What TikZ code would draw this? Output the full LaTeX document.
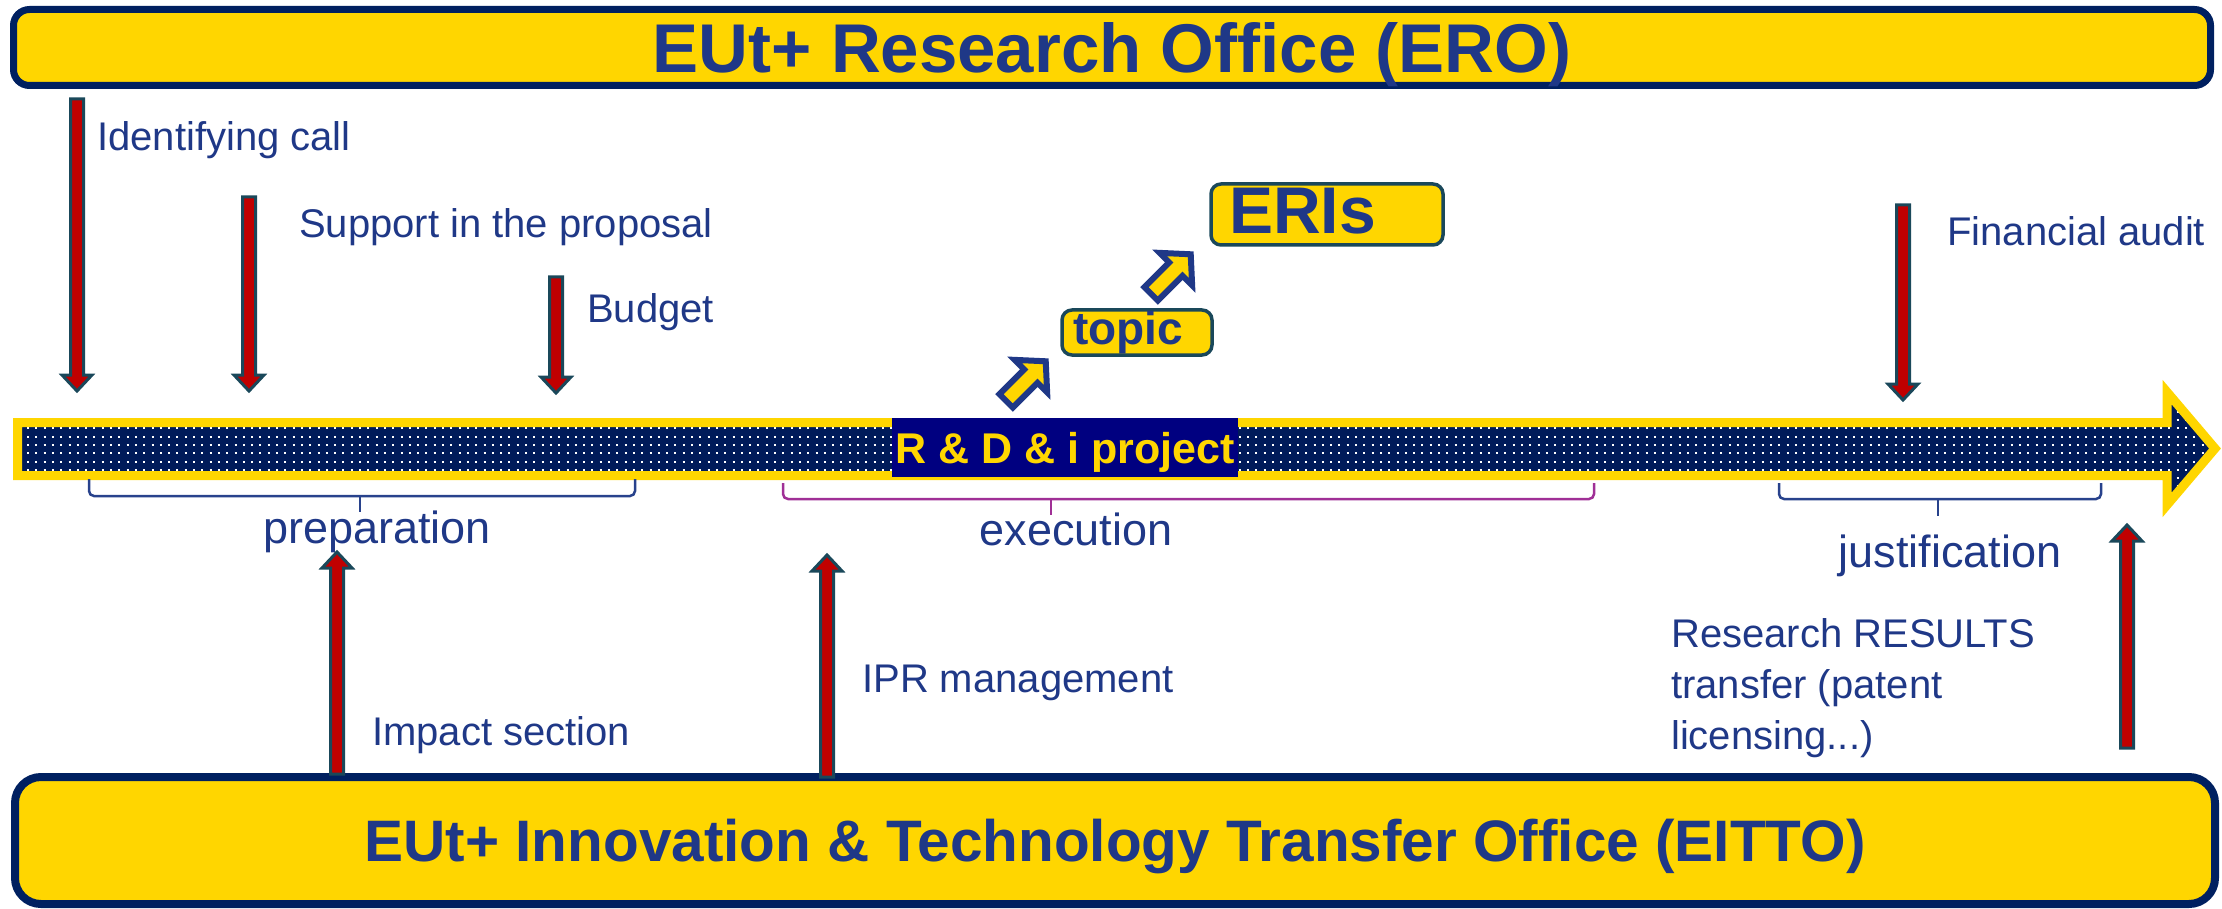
\documentclass[tikz,border=0pt]{standalone}
\usepackage{fontspec}
\setmainfont{Liberation Sans}
\usetikzlibrary{calc}
\definecolor{gold}{RGB}{255,214,0}
\definecolor{txtblue}{RGB}{31,56,135}
\definecolor{boxnavy}{RGB}{0,32,96}
\definecolor{dotnavy}{RGB}{0,27,90}
\definecolor{projnavy}{RGB}{0,0,128}
\definecolor{arrred}{RGB}{192,0,0}
\definecolor{arrteal}{RGB}{26,72,90}
\definecolor{brmag}{RGB}{160,48,150}
\definecolor{brblue}{RGB}{40,66,140}
\newcommand\redarrow[2]{%
  \draw[redarr] let \p1=(#1), \p2=(#2), \n1={sign(\y1-\y2)} in
    (\x1-6.5pt,\y1) -- (\x1+6.5pt,\y1) -- (\x2+6.5pt,\y2+\n1*16pt)
    -- (\x2+15pt,\y2+\n1*16pt) -- (\x2,\y2) -- (\x2-15pt,\y2+\n1*16pt)
    -- (\x2-6.5pt,\y2+\n1*16pt) -- cycle;}
\newcommand\blockarr[1]{%
  \draw[blockarrow, shift={(#1)}, rotate=45]
    (3,-9.5) -- (38,-9.5) -- (38,-23) -- (59,0) -- (38,23) -- (38,9.5) -- (3,9.5) -- cycle;}
\begin{document}
\begin{tikzpicture}[x=1pt,y=-1pt,
  lab/.style={font=\fontsize{40}{48}\selectfont, text=txtblue, inner sep=0pt, anchor=base west},
  phase/.style={font=\fontsize{45}{54}\selectfont, text=txtblue, inner sep=0pt, anchor=base},
  office/.style={draw=boxnavy, fill=gold, text=txtblue, inner sep=0pt, text depth=0pt},
  tagbox/.style={draw=arrteal, fill=gold, line width=3.5pt, rounded corners=10pt, text=txtblue, inner ysep=0pt, align=left},
  redarr/.style={fill=arrred, draw=arrteal, line width=3pt, line join=miter},
  blockarrow/.style={fill=gold, draw=txtblue, line width=6pt, line join=miter},
  brace/.style={line width=2.5pt, rounded corners=5pt},
  dotrow/.style={white, line width=2pt, dash pattern=on 2pt off 6.3pt},
]
\useasboundingbox (0,0) rectangle (2222,909);

% timeline arrow
\fill[dotnavy] (17.5,422.5) -- (2167,422.5) -- (2167,392) -- (2215,448.5) -- (2167,505) -- (2167,475.5) -- (17.5,475.5) -- cycle;
\begin{scope}
  \clip (17.5,422.5) -- (2167,422.5) -- (2167,392) -- (2215,448.5) -- (2167,505) -- (2167,475.5) -- (17.5,475.5) -- cycle;
  \foreach \r in {-3,...,8} {
    \draw[dotrow] (27,428.3+\r*8.3) -- (2222,428.3+\r*8.3);
  }
\end{scope}
\draw[gold, line width=9pt, line join=miter] (17.5,422.5) -- (2167,422.5) -- (2167,392) -- (2215,448.5) -- (2167,505) -- (2167,475.5) -- (17.5,475.5) -- cycle;

\node[fill=projnavy, text=gold, inner sep=0pt, minimum width=346pt, minimum height=59pt, text depth=0pt,
      font=\bfseries\fontsize{43}{50}\selectfont] (proj) at (1065,447.5) {R \& D \& i project};

% braces
\draw[brace, brblue] (89,479) -- (89,496) -- (635,496) -- (635,479);
\draw[brace, brblue] (360,496) -- (360,512);
\draw[brace, brmag] (783,483) -- (783,499) -- (1594,499) -- (1594,483);
\draw[brace, brmag] (1051,499) -- (1051,515);
\draw[brace, brblue] (1779,483) -- (1779,499) -- (2101,499) -- (2101,483);
\draw[brace, brblue] (1938,499) -- (1938,516);

\node[phase] (prep) at (377,543) {preparation};
\node[phase] (exec) at (1076,545) {execution};
\node[phase] (just) at (1950,567) {justification};

% office boxes
\node[office, minimum width=2197pt, minimum height=76pt, rounded corners=16pt, line width=7pt,
      font=\bfseries\fontsize{69}{80}\selectfont] (ero) at (1112,47.5) {EUt+ Research Office (ERO)};
\node[office, minimum width=2200pt, minimum height=127pt, rounded corners=26pt, line width=8pt,
      font=\bfseries\fontsize{58.5}{70}\selectfont] (eitto) at (1115,840.5) {EUt+ Innovation \& Technology Transfer Office (EITTO)};

% labels
\node[lab] (l1) at (97,151) {Identifying call};
\node[lab] (l2) at (299,238) {Support in the proposal};
\node[lab] (l3) at (587,323) {Budget};
\node[lab] (l4) at (1947,246) {Financial audit};
\node[lab] (l5) at (372,745) {Impact section};
\node[lab] (l6) at (862,692) {IPR management};
\node[lab] (r1) at (1671,647) {Research RESULTS};
\node[lab] (r2) at (1671,698) {transfer (patent};
\node[lab] (r3) at (1671,749) {licensing...)};

% red arrows
\coordinate (d1s) at (77,99);    \coordinate (d1e) at (77,391);
\coordinate (d2s) at (249,197);  \coordinate (d2e) at (249,391);
\coordinate (d3s) at (556,277);  \coordinate (d3e) at (556,393);
\coordinate (d4s) at (1903,205); \coordinate (d4e) at (1903,400);
\coordinate (u1s) at (337,774);  \coordinate (u1e) at (337,552);
\coordinate (u2s) at (827,777);  \coordinate (u2e) at (827,555);
\coordinate (u3s) at (2127,748); \coordinate (u3e) at (2127,525);
\redarrow{d1s}{d1e}
\redarrow{d2s}{d2e}
\redarrow{d3s}{d3e}
\redarrow{d4s}{d4e}
\redarrow{u1s}{u1e}
\redarrow{u2s}{u2e}
\redarrow{u3s}{u3e}

% topic / ERIs
\coordinate (b1) at (1004,403);
\coordinate (b2) at (1149,296);
\blockarr{b1}
\blockarr{b2}
\node[tagbox, inner xsep=11pt, text width=128pt, minimum height=45pt,
      font=\bfseries\fontsize{46}{52}\selectfont] (topic) at (1137,332.5) {topic};
\node[tagbox, inner xsep=18pt, text width=196pt, minimum height=61pt, text depth=8pt,
      font=\bfseries\fontsize{66}{74}\selectfont] (eris) at (1327,214.5) {ERIs};
\end{tikzpicture}
\end{document}
